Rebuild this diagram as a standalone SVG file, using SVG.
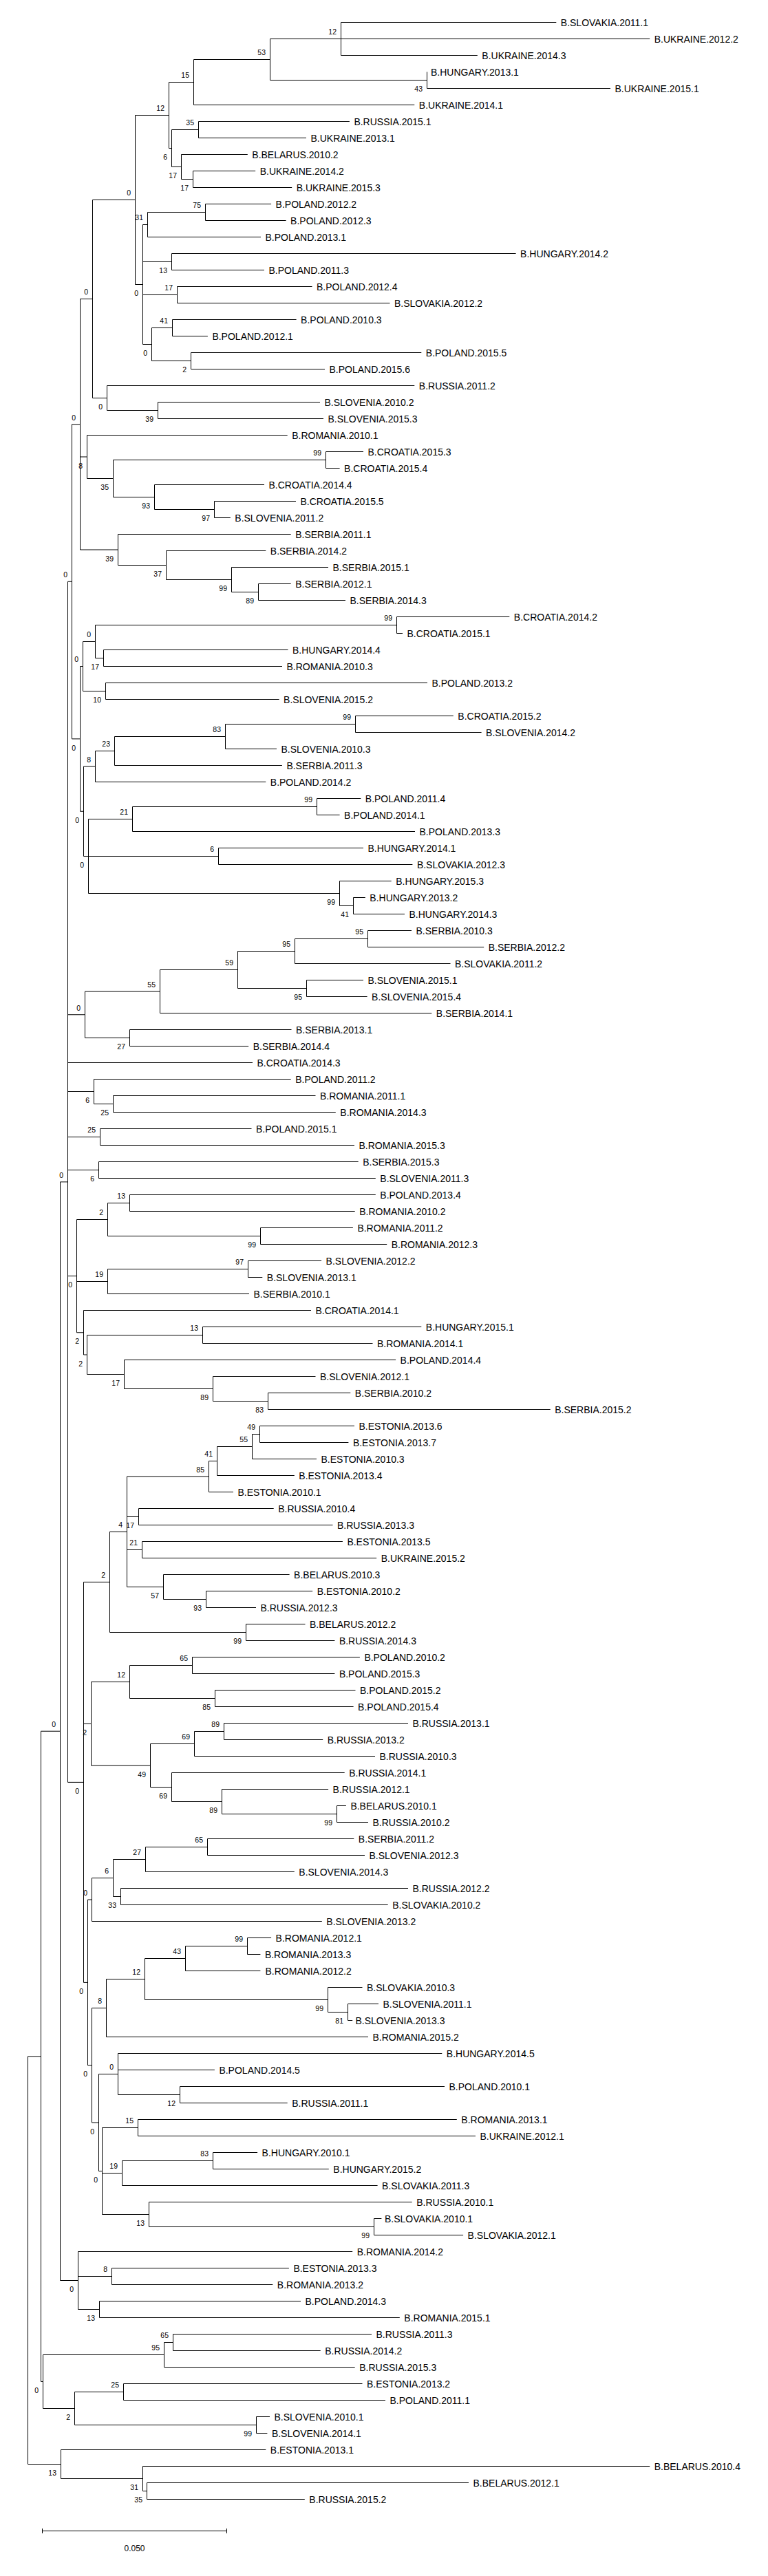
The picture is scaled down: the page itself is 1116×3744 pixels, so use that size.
<svg xmlns="http://www.w3.org/2000/svg" width="1116" height="3744" viewBox="0 0 1116 3744">
<style>
.c path{fill:none;stroke:#000;stroke-width:1}
text{font-family:"Liberation Sans",Arial,sans-serif;fill:#000}
.lf text{font-size:14px}
.bs text{font-size:10.5px;text-anchor:end}
</style>
<rect x="0" y="0" width="1116" height="3744" fill="#fff"/>
<g id="connectors" class="c">
<path d="M495.5 32.5V80.5M495.5 32.5H808.3M495.5 80.5H693.8"/>
<path d="M620.5 104.5V128.5M620.5 128.5H887"/>
<path d="M392.5 56.5V116.5M392.5 56.5H944.2M392.5 116.5H620.5"/>
<path d="M281.5 86.5V152.5M281.5 86.5H392.5M281.5 152.5H602.3"/>
<path d="M288.5 176.5V200.5M288.5 176.5H507.9M288.5 200.5H445"/>
<path d="M280.5 248.5V272.5M280.5 248.5H371.2M280.5 272.5H424.2"/>
<path d="M263.5 224.5V260.5M263.5 224.5H359.8M263.5 260.5H280.5"/>
<path d="M249.5 188.5V242.5M249.5 188.5H288.5M249.5 242.5H263.5"/>
<path d="M245.5 119.5V215.5M245.5 119.5H281.5M245.5 215.5H249.5"/>
<path d="M298.5 296.5V320.5M298.5 296.5H394.1M298.5 320.5H415.6"/>
<path d="M214.5 308.5V344.5M214.5 308.5H298.5M214.5 344.5H379"/>
<path d="M249.5 368.5V392.5M249.5 368.5H749.6M249.5 392.5H384"/>
<path d="M257.5 416.5V440.5M257.5 416.5H453.5M257.5 440.5H566.5"/>
<path d="M250.5 464.5V488.5M250.5 464.5H430.6M250.5 488.5H301.9"/>
<path d="M277.5 512.5V536.5M277.5 512.5H612.3M277.5 536.5H472"/>
<path d="M220.5 476.5V524.5M220.5 476.5H250.5M220.5 524.5H277.5"/>
<path d="M207.5 326.5V500.5M207.5 326.5H214.5M207.5 380.5H249.5M207.5 428.5H257.5M207.5 500.5H220.5"/>
<path d="M196.5 167.5V413.5M196.5 167.5H245.5M196.5 413.5H207.5"/>
<path d="M229.5 584.5V608.5M229.5 584.5H465M229.5 608.5H470"/>
<path d="M155.5 560.5V596.5M155.5 560.5H602.3M155.5 596.5H229.5"/>
<path d="M134.5 290.5V578.5M134.5 290.5H196.5M134.5 578.5H155.5"/>
<path d="M473.5 656.5V680.5M473.5 656.5H528M473.5 680.5H493.6"/>
<path d="M311.5 728.5V752.5M311.5 728.5H430M311.5 752.5H334.8"/>
<path d="M224.5 704.5V740.5M224.5 704.5H384M224.5 740.5H311.5"/>
<path d="M164.5 668.5V722.5M164.5 668.5H473.5M164.5 722.5H224.5"/>
<path d="M126.5 632.5V695.5M126.5 632.5H417.7M126.5 695.5H164.5"/>
<path d="M375.5 848.5V872.5M375.5 848.5H422.7M375.5 872.5H502"/>
<path d="M336.5 824.5V860.5M336.5 824.5H477M336.5 860.5H375.5"/>
<path d="M241.5 800.5V842.5M241.5 800.5H386.3M241.5 842.5H336.5"/>
<path d="M171.5 776.5V821.5M171.5 776.5H422.7M171.5 821.5H241.5"/>
<path d="M116.5 434.5V799M116.5 434.5H134.5M116.5 664H126.5M116.5 799H171.5"/>
<path d="M576.5 896.5V920.5M576.5 896.5H740.3M576.5 920.5H585"/>
<path d="M150.5 944.5V968.5M150.5 944.5H418.5M150.5 968.5H410"/>
<path d="M138.5 908.5V956.5M138.5 908.5H576.5M138.5 956.5H150.5"/>
<path d="M153.5 992.5V1016.5M153.5 992.5H621M153.5 1016.5H405.6"/>
<path d="M120.5 932.5V1004.5M120.5 932.5H138.5M120.5 1004.5H153.5"/>
<path d="M516.5 1040.5V1064.5M516.5 1040.5H658.8M516.5 1064.5H699.6"/>
<path d="M327.5 1052.5V1088.5M327.5 1052.5H516.5M327.5 1088.5H402"/>
<path d="M166.5 1070.5V1112.5M166.5 1070.5H327.5M166.5 1112.5H409.9"/>
<path d="M138.5 1091.5V1136.5M138.5 1091.5H166.5M138.5 1136.5H386.3"/>
<path d="M317.5 1232.5V1256.5M317.5 1232.5H528M317.5 1256.5H599.4"/>
<path d="M460.5 1160.5V1184.5M460.5 1160.5H524.3M460.5 1184.5H493.6"/>
<path d="M192.5 1172.5V1208.5M192.5 1172.5H460.5M192.5 1208.5H603"/>
<path d="M513.5 1304.5V1328.5M513.5 1304.5H530.8M513.5 1328.5H588"/>
<path d="M493.5 1280.5V1316.5M493.5 1280.5H568.7M493.5 1316.5H513.5"/>
<path d="M128.5 1190.5V1298.5M128.5 1190.5H192.5M128.5 1298.5H493.5"/>
<path d="M121.5 1114V1244.5M121.5 1114H138.5M121.5 1244.5H317.5"/>
<path d="M116.5 968.5V1179.25M116.5 968.5H120.5M116.5 1179.25H121.5"/>
<path d="M104.5 616.75V1073.9M104.5 616.75H116.5M104.5 1073.9H116.5"/>
<path d="M534.5 1352.5V1376.5M534.5 1352.5H598M534.5 1376.5H703.2"/>
<path d="M428.5 1364.5V1400.5M428.5 1364.5H534.5M428.5 1400.5H654.5"/>
<path d="M445.5 1424.5V1448.5M445.5 1424.5H528M445.5 1448.5H533.6"/>
<path d="M345.5 1382.5V1436.5M345.5 1382.5H428.5M345.5 1436.5H445.5"/>
<path d="M232.5 1409.5V1472.5M232.5 1409.5H345.5M232.5 1472.5H627.3"/>
<path d="M188.5 1496.5V1520.5M188.5 1496.5H423.5M188.5 1520.5H361.2"/>
<path d="M123.5 1441V1508.5M123.5 1441H232.5M123.5 1508.5H188.5"/>
<path d="M164.5 1592.5V1616.5M164.5 1592.5H458.5M164.5 1616.5H487.8"/>
<path d="M136.5 1568.5V1604.5M136.5 1568.5H422.7M136.5 1604.5H164.5"/>
<path d="M145.5 1640.5V1664.5M145.5 1640.5H365.5M145.5 1664.5H515"/>
<path d="M143.5 1688.5V1712.5M143.5 1688.5H520.7M143.5 1712.5H545.8"/>
<path d="M188.5 1736.5V1760.5M188.5 1736.5H545.8M188.5 1760.5H515.7"/>
<path d="M378.5 1784.5V1808.5M378.5 1784.5H512.9M378.5 1808.5H562.2"/>
<path d="M156.5 1748.5V1796.5M156.5 1748.5H188.5M156.5 1796.5H378.5"/>
<path d="M360.5 1832.5V1856.5M360.5 1832.5H467.1M360.5 1856.5H381.3"/>
<path d="M156.5 1844.5V1880.5M156.5 1844.5H360.5M156.5 1880.5H362"/>
<path d="M294.5 1928.5V1952.5M294.5 1928.5H612.3M294.5 1952.5H541.5"/>
<path d="M389.5 2024.5V2048.5M389.5 2024.5H509.3M389.5 2048.5H799.7"/>
<path d="M309.5 2000.5V2036.5M309.5 2000.5H458.5M309.5 2036.5H389.5"/>
<path d="M180.5 1976.5V2018.5M180.5 1976.5H575.1M180.5 2018.5H309.5"/>
<path d="M126.5 1940.5V1997.5M126.5 1940.5H294.5M126.5 1997.5H180.5"/>
<path d="M121.5 1904.5V1969M121.5 1904.5H452M121.5 1969H126.5"/>
<path d="M111.5 1772.5V1936.75M111.5 1772.5H156.5M111.5 1862.5H156.5M111.5 1936.75H121.5"/>
<path d="M377.5 2072.5V2096.5M377.5 2072.5H515M377.5 2096.5H506.4"/>
<path d="M366.5 2084.5V2120.5M366.5 2084.5H377.5M366.5 2120.5H460"/>
<path d="M315.5 2102.5V2144.5M315.5 2102.5H366.5M315.5 2144.5H427.8"/>
<path d="M303.5 2123.5V2168.5M303.5 2123.5H315.5M303.5 2168.5H339"/>
<path d="M201.5 2192.5V2216.5M201.5 2192.5H397.7M201.5 2216.5H483.5"/>
<path d="M206.5 2240.5V2264.5M206.5 2240.5H497.9M206.5 2264.5H547.2"/>
<path d="M299.5 2312.5V2336.5M299.5 2312.5H454.2M299.5 2336.5H372"/>
<path d="M237.5 2288.5V2324.5M237.5 2288.5H420.6M237.5 2324.5H299.5"/>
<path d="M184.5 2146V2306.5M184.5 2146H303.5M184.5 2204.5H201.5M184.5 2252.5H206.5M184.5 2306.5H237.5"/>
<path d="M357.5 2360.5V2384.5M357.5 2360.5H443.5M357.5 2384.5H486.4"/>
<path d="M159.5 2226.25V2372.5M159.5 2226.25H184.5M159.5 2372.5H357.5"/>
<path d="M279.5 2408.5V2432.5M279.5 2408.5H522.9M279.5 2432.5H486.4"/>
<path d="M312.5 2456.5V2480.5M312.5 2456.5H516.5M312.5 2480.5H513.6"/>
<path d="M188.5 2420.5V2468.5M188.5 2420.5H279.5M188.5 2468.5H312.5"/>
<path d="M325.5 2504.5V2528.5M325.5 2504.5H593M325.5 2528.5H469.2"/>
<path d="M282.5 2516.5V2552.5M282.5 2516.5H325.5M282.5 2552.5H545"/>
<path d="M489.5 2624.5V2648.5M489.5 2624.5H502.9M489.5 2648.5H535"/>
<path d="M322.5 2600.5V2636.5M322.5 2600.5H477.1M322.5 2636.5H489.5"/>
<path d="M249.5 2576.5V2618.5M249.5 2576.5H500.7M249.5 2618.5H322.5"/>
<path d="M218.5 2534.5V2597.5M218.5 2534.5H282.5M218.5 2597.5H249.5"/>
<path d="M132.5 2444.5V2566M132.5 2444.5H188.5M132.5 2566H218.5"/>
<path d="M301.5 2672.5V2696.5M301.5 2672.5H514.3M301.5 2696.5H530"/>
<path d="M211.5 2684.5V2720.5M211.5 2684.5H301.5M211.5 2720.5H427.8"/>
<path d="M175.5 2744.5V2768.5M175.5 2744.5H593M175.5 2768.5H563.7"/>
<path d="M164.5 2702.5V2756.5M164.5 2702.5H211.5M164.5 2756.5H175.5"/>
<path d="M133.5 2729.5V2792.5M133.5 2729.5H164.5M133.5 2792.5H467.8"/>
<path d="M359.5 2816.5V2840.5M359.5 2816.5H394.1M359.5 2840.5H378.4"/>
<path d="M269.5 2828.5V2864.5M269.5 2828.5H359.5M269.5 2864.5H378.4"/>
<path d="M505.5 2912.5V2936.5M505.5 2912.5H550M505.5 2936.5H512.2"/>
<path d="M476.5 2888.5V2924.5M476.5 2888.5H526.5M476.5 2924.5H505.5"/>
<path d="M210.5 2846.5V2906.5M210.5 2846.5H269.5M210.5 2906.5H476.5"/>
<path d="M154.5 2876.5V2960.5M154.5 2876.5H210.5M154.5 2960.5H535"/>
<path d="M261.5 3032.5V3056.5M261.5 3032.5H646M261.5 3056.5H417.7"/>
<path d="M171.5 2984.5V3044.5M171.5 2984.5H642.3M171.5 3008.5H311.9M171.5 3044.5H261.5"/>
<path d="M200.5 3080.5V3104.5M200.5 3080.5H663.8M200.5 3104.5H691"/>
<path d="M309.5 3128.5V3152.5M309.5 3128.5H374.1M309.5 3152.5H477.8"/>
<path d="M177.5 3140.5V3176.5M177.5 3140.5H309.5M177.5 3176.5H548.6"/>
<path d="M543.5 3224.5V3248.5M543.5 3224.5H554.4M543.5 3248.5H673.1"/>
<path d="M216.5 3200.5V3236.5M216.5 3200.5H598.7M216.5 3236.5H543.5"/>
<path d="M148.5 3092.5V3218.5M148.5 3092.5H200.5M148.5 3158.5H177.5M148.5 3218.5H216.5"/>
<path d="M143.5 3014.5V3155.5M143.5 3014.5H171.5M143.5 3155.5H148.5"/>
<path d="M133.5 2918.5V3085M133.5 2918.5H154.5M133.5 3085H143.5"/>
<path d="M127.5 2761V3001.75M127.5 2761H133.5M127.5 3001.75H133.5"/>
<path d="M121.5 2299.4V2881.4M121.5 2299.4H159.5M121.5 2505.25H132.5M121.5 2881.4H127.5"/>
<path d="M98.5 845.3V2590.4M98.5 845.3H104.5M98.5 1474.75H123.5M98.5 1544.5H367M98.5 1586.5H136.5M98.5 1652.5H145.5M98.5 1700.5H143.5M98.5 1854.6H111.5M98.5 2590.4H121.5"/>
<path d="M162.5 3296.5V3320.5M162.5 3296.5H419.9M162.5 3320.5H396.3"/>
<path d="M144.5 3344.5V3368.5M144.5 3344.5H437M144.5 3368.5H580.8"/>
<path d="M113.5 3272.5V3356.5M113.5 3272.5H512.2M113.5 3308.5H162.5M113.5 3356.5H144.5"/>
<path d="M87.5 1717.85V3314.5M87.5 1717.85H98.5M87.5 3314.5H113.5"/>
<path d="M251.5 3392.5V3416.5M251.5 3392.5H540M251.5 3416.5H465.7"/>
<path d="M238.5 3404.5V3440.5M238.5 3404.5H251.5M238.5 3440.5H515.7"/>
<path d="M179.5 3464.5V3488.5M179.5 3464.5H526.5M179.5 3488.5H560"/>
<path d="M372.5 3512.5V3536.5M372.5 3512.5H392M372.5 3536.5H388.4"/>
<path d="M108.5 3476.5V3524.5M108.5 3476.5H179.5M108.5 3524.5H372.5"/>
<path d="M62.5 3422.5V3500.5M62.5 3422.5H238.5M62.5 3500.5H108.5"/>
<path d="M59.5 2516.2V3461.5M59.5 2516.2H87.5M59.5 3461.5H62.5"/>
<path d="M213.5 3608.5V3632.5M213.5 3608.5H681M213.5 3632.5H442.8"/>
<path d="M207.5 3584.5V3620.5M207.5 3584.5H944.2M207.5 3620.5H213.5"/>
<path d="M88.5 3560.5V3602.5M88.5 3560.5H386.3M88.5 3602.5H207.5"/>
<path d="M40.5 2988.85V3581.5M40.5 2988.85H59.5M40.5 3581.5H88.5"/>
</g>
<g id="leaves" class="lf">
<g id="leaf-SLOVAKIA-2011-1"><text x="814.8" y="37.5">B.SLOVAKIA.2011.1</text></g>
<g id="leaf-UKRAINE-2012-2"><text x="950.7" y="61.5">B.UKRAINE.2012.2</text></g>
<g id="leaf-UKRAINE-2014-3"><text x="700.3" y="85.5">B.UKRAINE.2014.3</text></g>
<g id="leaf-HUNGARY-2013-1"><text x="626" y="109.5">B.HUNGARY.2013.1</text></g>
<g id="leaf-UKRAINE-2015-1"><text x="893.5" y="133.5">B.UKRAINE.2015.1</text></g>
<g id="leaf-UKRAINE-2014-1"><text x="608.8" y="157.5">B.UKRAINE.2014.1</text></g>
<g id="leaf-RUSSIA-2015-1"><text x="514.4" y="181.5">B.RUSSIA.2015.1</text></g>
<g id="leaf-UKRAINE-2013-1"><text x="451.5" y="205.5">B.UKRAINE.2013.1</text></g>
<g id="leaf-BELARUS-2010-2"><text x="366.3" y="229.5">B.BELARUS.2010.2</text></g>
<g id="leaf-UKRAINE-2014-2"><text x="377.7" y="253.5">B.UKRAINE.2014.2</text></g>
<g id="leaf-UKRAINE-2015-3"><text x="430.7" y="277.5">B.UKRAINE.2015.3</text></g>
<g id="leaf-POLAND-2012-2"><text x="400.6" y="301.5">B.POLAND.2012.2</text></g>
<g id="leaf-POLAND-2012-3"><text x="422.1" y="325.5">B.POLAND.2012.3</text></g>
<g id="leaf-POLAND-2013-1"><text x="385.5" y="349.5">B.POLAND.2013.1</text></g>
<g id="leaf-HUNGARY-2014-2"><text x="756.1" y="373.5">B.HUNGARY.2014.2</text></g>
<g id="leaf-POLAND-2011-3"><text x="390.5" y="397.5">B.POLAND.2011.3</text></g>
<g id="leaf-POLAND-2012-4"><text x="460" y="421.5">B.POLAND.2012.4</text></g>
<g id="leaf-SLOVAKIA-2012-2"><text x="573" y="445.5">B.SLOVAKIA.2012.2</text></g>
<g id="leaf-POLAND-2010-3"><text x="437.1" y="469.5">B.POLAND.2010.3</text></g>
<g id="leaf-POLAND-2012-1"><text x="308.4" y="493.5">B.POLAND.2012.1</text></g>
<g id="leaf-POLAND-2015-5"><text x="618.8" y="517.5">B.POLAND.2015.5</text></g>
<g id="leaf-POLAND-2015-6"><text x="478.5" y="541.5">B.POLAND.2015.6</text></g>
<g id="leaf-RUSSIA-2011-2"><text x="608.8" y="565.5">B.RUSSIA.2011.2</text></g>
<g id="leaf-SLOVENIA-2010-2"><text x="471.5" y="589.5">B.SLOVENIA.2010.2</text></g>
<g id="leaf-SLOVENIA-2015-3"><text x="476.5" y="613.5">B.SLOVENIA.2015.3</text></g>
<g id="leaf-ROMANIA-2010-1"><text x="424.2" y="637.5">B.ROMANIA.2010.1</text></g>
<g id="leaf-CROATIA-2015-3"><text x="534.5" y="661.5">B.CROATIA.2015.3</text></g>
<g id="leaf-CROATIA-2015-4"><text x="500.1" y="685.5">B.CROATIA.2015.4</text></g>
<g id="leaf-CROATIA-2014-4"><text x="390.5" y="709.5">B.CROATIA.2014.4</text></g>
<g id="leaf-CROATIA-2015-5"><text x="436.5" y="733.5">B.CROATIA.2015.5</text></g>
<g id="leaf-SLOVENIA-2011-2"><text x="341.3" y="757.5">B.SLOVENIA.2011.2</text></g>
<g id="leaf-SERBIA-2011-1"><text x="429.2" y="781.5">B.SERBIA.2011.1</text></g>
<g id="leaf-SERBIA-2014-2"><text x="392.8" y="805.5">B.SERBIA.2014.2</text></g>
<g id="leaf-SERBIA-2015-1"><text x="483.5" y="829.5">B.SERBIA.2015.1</text></g>
<g id="leaf-SERBIA-2012-1"><text x="429.2" y="853.5">B.SERBIA.2012.1</text></g>
<g id="leaf-SERBIA-2014-3"><text x="508.5" y="877.5">B.SERBIA.2014.3</text></g>
<g id="leaf-CROATIA-2014-2"><text x="746.8" y="901.5">B.CROATIA.2014.2</text></g>
<g id="leaf-CROATIA-2015-1"><text x="591.5" y="925.5">B.CROATIA.2015.1</text></g>
<g id="leaf-HUNGARY-2014-4"><text x="425" y="949.5">B.HUNGARY.2014.4</text></g>
<g id="leaf-ROMANIA-2010-3"><text x="416.5" y="973.5">B.ROMANIA.2010.3</text></g>
<g id="leaf-POLAND-2013-2"><text x="627.5" y="997.5">B.POLAND.2013.2</text></g>
<g id="leaf-SLOVENIA-2015-2"><text x="412.1" y="1021.5">B.SLOVENIA.2015.2</text></g>
<g id="leaf-CROATIA-2015-2"><text x="665.3" y="1045.5">B.CROATIA.2015.2</text></g>
<g id="leaf-SLOVENIA-2014-2"><text x="706.1" y="1069.5">B.SLOVENIA.2014.2</text></g>
<g id="leaf-SLOVENIA-2010-3"><text x="408.5" y="1093.5">B.SLOVENIA.2010.3</text></g>
<g id="leaf-SERBIA-2011-3"><text x="416.4" y="1117.5">B.SERBIA.2011.3</text></g>
<g id="leaf-POLAND-2014-2"><text x="392.8" y="1141.5">B.POLAND.2014.2</text></g>
<g id="leaf-POLAND-2011-4"><text x="530.8" y="1165.5">B.POLAND.2011.4</text></g>
<g id="leaf-POLAND-2014-1"><text x="500.1" y="1189.5">B.POLAND.2014.1</text></g>
<g id="leaf-POLAND-2013-3"><text x="609.5" y="1213.5">B.POLAND.2013.3</text></g>
<g id="leaf-HUNGARY-2014-1"><text x="534.5" y="1237.5">B.HUNGARY.2014.1</text></g>
<g id="leaf-SLOVAKIA-2012-3"><text x="605.9" y="1261.5">B.SLOVAKIA.2012.3</text></g>
<g id="leaf-HUNGARY-2015-3"><text x="575.2" y="1285.5">B.HUNGARY.2015.3</text></g>
<g id="leaf-HUNGARY-2013-2"><text x="537.3" y="1309.5">B.HUNGARY.2013.2</text></g>
<g id="leaf-HUNGARY-2014-3"><text x="594.5" y="1333.5">B.HUNGARY.2014.3</text></g>
<g id="leaf-SERBIA-2010-3"><text x="604.5" y="1357.5">B.SERBIA.2010.3</text></g>
<g id="leaf-SERBIA-2012-2"><text x="709.7" y="1381.5">B.SERBIA.2012.2</text></g>
<g id="leaf-SLOVAKIA-2011-2"><text x="661" y="1405.5">B.SLOVAKIA.2011.2</text></g>
<g id="leaf-SLOVENIA-2015-1"><text x="534.5" y="1429.5">B.SLOVENIA.2015.1</text></g>
<g id="leaf-SLOVENIA-2015-4"><text x="540.1" y="1453.5">B.SLOVENIA.2015.4</text></g>
<g id="leaf-SERBIA-2014-1"><text x="633.8" y="1477.5">B.SERBIA.2014.1</text></g>
<g id="leaf-SERBIA-2013-1"><text x="430" y="1501.5">B.SERBIA.2013.1</text></g>
<g id="leaf-SERBIA-2014-4"><text x="367.7" y="1525.5">B.SERBIA.2014.4</text></g>
<g id="leaf-CROATIA-2014-3"><text x="373.5" y="1549.5">B.CROATIA.2014.3</text></g>
<g id="leaf-POLAND-2011-2"><text x="429.2" y="1573.5">B.POLAND.2011.2</text></g>
<g id="leaf-ROMANIA-2011-1"><text x="465" y="1597.5">B.ROMANIA.2011.1</text></g>
<g id="leaf-ROMANIA-2014-3"><text x="494.3" y="1621.5">B.ROMANIA.2014.3</text></g>
<g id="leaf-POLAND-2015-1"><text x="372" y="1645.5">B.POLAND.2015.1</text></g>
<g id="leaf-ROMANIA-2015-3"><text x="521.5" y="1669.5">B.ROMANIA.2015.3</text></g>
<g id="leaf-SERBIA-2015-3"><text x="527.2" y="1693.5">B.SERBIA.2015.3</text></g>
<g id="leaf-SLOVENIA-2011-3"><text x="552.3" y="1717.5">B.SLOVENIA.2011.3</text></g>
<g id="leaf-POLAND-2013-4"><text x="552.3" y="1741.5">B.POLAND.2013.4</text></g>
<g id="leaf-ROMANIA-2010-2"><text x="522.2" y="1765.5">B.ROMANIA.2010.2</text></g>
<g id="leaf-ROMANIA-2011-2"><text x="519.4" y="1789.5">B.ROMANIA.2011.2</text></g>
<g id="leaf-ROMANIA-2012-3"><text x="568.7" y="1813.5">B.ROMANIA.2012.3</text></g>
<g id="leaf-SLOVENIA-2012-2"><text x="473.6" y="1837.5">B.SLOVENIA.2012.2</text></g>
<g id="leaf-SLOVENIA-2013-1"><text x="387.8" y="1861.5">B.SLOVENIA.2013.1</text></g>
<g id="leaf-SERBIA-2010-1"><text x="368.5" y="1885.5">B.SERBIA.2010.1</text></g>
<g id="leaf-CROATIA-2014-1"><text x="458.5" y="1909.5">B.CROATIA.2014.1</text></g>
<g id="leaf-HUNGARY-2015-1"><text x="618.8" y="1933.5">B.HUNGARY.2015.1</text></g>
<g id="leaf-ROMANIA-2014-1"><text x="548" y="1957.5">B.ROMANIA.2014.1</text></g>
<g id="leaf-POLAND-2014-4"><text x="581.6" y="1981.5">B.POLAND.2014.4</text></g>
<g id="leaf-SLOVENIA-2012-1"><text x="465" y="2005.5">B.SLOVENIA.2012.1</text></g>
<g id="leaf-SERBIA-2010-2"><text x="515.8" y="2029.5">B.SERBIA.2010.2</text></g>
<g id="leaf-SERBIA-2015-2"><text x="806.2" y="2053.5">B.SERBIA.2015.2</text></g>
<g id="leaf-ESTONIA-2013-6"><text x="521.5" y="2077.5">B.ESTONIA.2013.6</text></g>
<g id="leaf-ESTONIA-2013-7"><text x="512.9" y="2101.5">B.ESTONIA.2013.7</text></g>
<g id="leaf-ESTONIA-2010-3"><text x="466.5" y="2125.5">B.ESTONIA.2010.3</text></g>
<g id="leaf-ESTONIA-2013-4"><text x="434.3" y="2149.5">B.ESTONIA.2013.4</text></g>
<g id="leaf-ESTONIA-2010-1"><text x="345.5" y="2173.5">B.ESTONIA.2010.1</text></g>
<g id="leaf-RUSSIA-2010-4"><text x="404.2" y="2197.5">B.RUSSIA.2010.4</text></g>
<g id="leaf-RUSSIA-2013-3"><text x="490" y="2221.5">B.RUSSIA.2013.3</text></g>
<g id="leaf-ESTONIA-2013-5"><text x="504.4" y="2245.5">B.ESTONIA.2013.5</text></g>
<g id="leaf-UKRAINE-2015-2"><text x="553.7" y="2269.5">B.UKRAINE.2015.2</text></g>
<g id="leaf-BELARUS-2010-3"><text x="427.1" y="2293.5">B.BELARUS.2010.3</text></g>
<g id="leaf-ESTONIA-2010-2"><text x="460.7" y="2317.5">B.ESTONIA.2010.2</text></g>
<g id="leaf-RUSSIA-2012-3"><text x="378.5" y="2341.5">B.RUSSIA.2012.3</text></g>
<g id="leaf-BELARUS-2012-2"><text x="450" y="2365.5">B.BELARUS.2012.2</text></g>
<g id="leaf-RUSSIA-2014-3"><text x="492.9" y="2389.5">B.RUSSIA.2014.3</text></g>
<g id="leaf-POLAND-2010-2"><text x="529.4" y="2413.5">B.POLAND.2010.2</text></g>
<g id="leaf-POLAND-2015-3"><text x="492.9" y="2437.5">B.POLAND.2015.3</text></g>
<g id="leaf-POLAND-2015-2"><text x="523" y="2461.5">B.POLAND.2015.2</text></g>
<g id="leaf-POLAND-2015-4"><text x="520.1" y="2485.5">B.POLAND.2015.4</text></g>
<g id="leaf-RUSSIA-2013-1"><text x="599.5" y="2509.5">B.RUSSIA.2013.1</text></g>
<g id="leaf-RUSSIA-2013-2"><text x="475.7" y="2533.5">B.RUSSIA.2013.2</text></g>
<g id="leaf-RUSSIA-2010-3"><text x="551.5" y="2557.5">B.RUSSIA.2010.3</text></g>
<g id="leaf-RUSSIA-2014-1"><text x="507.2" y="2581.5">B.RUSSIA.2014.1</text></g>
<g id="leaf-RUSSIA-2012-1"><text x="483.6" y="2605.5">B.RUSSIA.2012.1</text></g>
<g id="leaf-BELARUS-2010-1"><text x="509.4" y="2629.5">B.BELARUS.2010.1</text></g>
<g id="leaf-RUSSIA-2010-2"><text x="541.5" y="2653.5">B.RUSSIA.2010.2</text></g>
<g id="leaf-SERBIA-2011-2"><text x="520.8" y="2677.5">B.SERBIA.2011.2</text></g>
<g id="leaf-SLOVENIA-2012-3"><text x="536.5" y="2701.5">B.SLOVENIA.2012.3</text></g>
<g id="leaf-SLOVENIA-2014-3"><text x="434.3" y="2725.5">B.SLOVENIA.2014.3</text></g>
<g id="leaf-RUSSIA-2012-2"><text x="599.5" y="2749.5">B.RUSSIA.2012.2</text></g>
<g id="leaf-SLOVAKIA-2010-2"><text x="570.2" y="2773.5">B.SLOVAKIA.2010.2</text></g>
<g id="leaf-SLOVENIA-2013-2"><text x="474.3" y="2797.5">B.SLOVENIA.2013.2</text></g>
<g id="leaf-ROMANIA-2012-1"><text x="400.6" y="2821.5">B.ROMANIA.2012.1</text></g>
<g id="leaf-ROMANIA-2013-3"><text x="384.9" y="2845.5">B.ROMANIA.2013.3</text></g>
<g id="leaf-ROMANIA-2012-2"><text x="385.5" y="2869.5">B.ROMANIA.2012.2</text></g>
<g id="leaf-SLOVAKIA-2010-3"><text x="533" y="2893.5">B.SLOVAKIA.2010.3</text></g>
<g id="leaf-SLOVENIA-2011-1"><text x="556.5" y="2917.5">B.SLOVENIA.2011.1</text></g>
<g id="leaf-SLOVENIA-2013-3"><text x="516.5" y="2941.5">B.SLOVENIA.2013.3</text></g>
<g id="leaf-ROMANIA-2015-2"><text x="541.5" y="2965.5">B.ROMANIA.2015.2</text></g>
<g id="leaf-HUNGARY-2014-5"><text x="648.8" y="2989.5">B.HUNGARY.2014.5</text></g>
<g id="leaf-POLAND-2014-5"><text x="318.4" y="3013.5">B.POLAND.2014.5</text></g>
<g id="leaf-POLAND-2010-1"><text x="652.5" y="3037.5">B.POLAND.2010.1</text></g>
<g id="leaf-RUSSIA-2011-1"><text x="424.2" y="3061.5">B.RUSSIA.2011.1</text></g>
<g id="leaf-ROMANIA-2013-1"><text x="670.3" y="3085.5">B.ROMANIA.2013.1</text></g>
<g id="leaf-UKRAINE-2012-1"><text x="697.5" y="3109.5">B.UKRAINE.2012.1</text></g>
<g id="leaf-HUNGARY-2010-1"><text x="380.6" y="3133.5">B.HUNGARY.2010.1</text></g>
<g id="leaf-HUNGARY-2015-2"><text x="484.3" y="3157.5">B.HUNGARY.2015.2</text></g>
<g id="leaf-SLOVAKIA-2011-3"><text x="555.1" y="3181.5">B.SLOVAKIA.2011.3</text></g>
<g id="leaf-RUSSIA-2010-1"><text x="605.2" y="3205.5">B.RUSSIA.2010.1</text></g>
<g id="leaf-SLOVAKIA-2010-1"><text x="559" y="3229.5">B.SLOVAKIA.2010.1</text></g>
<g id="leaf-SLOVAKIA-2012-1"><text x="679.6" y="3253.5">B.SLOVAKIA.2012.1</text></g>
<g id="leaf-ROMANIA-2014-2"><text x="518.7" y="3277.5">B.ROMANIA.2014.2</text></g>
<g id="leaf-ESTONIA-2013-3"><text x="426.4" y="3301.5">B.ESTONIA.2013.3</text></g>
<g id="leaf-ROMANIA-2013-2"><text x="402.8" y="3325.5">B.ROMANIA.2013.2</text></g>
<g id="leaf-POLAND-2014-3"><text x="443.5" y="3349.5">B.POLAND.2014.3</text></g>
<g id="leaf-ROMANIA-2015-1"><text x="587.3" y="3373.5">B.ROMANIA.2015.1</text></g>
<g id="leaf-RUSSIA-2011-3"><text x="546.5" y="3397.5">B.RUSSIA.2011.3</text></g>
<g id="leaf-RUSSIA-2014-2"><text x="472.2" y="3421.5">B.RUSSIA.2014.2</text></g>
<g id="leaf-RUSSIA-2015-3"><text x="522.2" y="3445.5">B.RUSSIA.2015.3</text></g>
<g id="leaf-ESTONIA-2013-2"><text x="533" y="3469.5">B.ESTONIA.2013.2</text></g>
<g id="leaf-POLAND-2011-1"><text x="566.5" y="3493.5">B.POLAND.2011.1</text></g>
<g id="leaf-SLOVENIA-2010-1"><text x="398.5" y="3517.5">B.SLOVENIA.2010.1</text></g>
<g id="leaf-SLOVENIA-2014-1"><text x="394.9" y="3541.5">B.SLOVENIA.2014.1</text></g>
<g id="leaf-ESTONIA-2013-1"><text x="392.8" y="3565.5">B.ESTONIA.2013.1</text></g>
<g id="leaf-BELARUS-2010-4"><text x="950.7" y="3589.5">B.BELARUS.2010.4</text></g>
<g id="leaf-BELARUS-2012-1"><text x="687.5" y="3613.5">B.BELARUS.2012.1</text></g>
<g id="leaf-RUSSIA-2015-2"><text x="449.3" y="3637.5">B.RUSSIA.2015.2</text></g>
</g>
<g id="support" class="bs">
<g id="n1"><text x="489" y="50.2">12</text></g>
<g id="n2"><text x="614" y="133.1">43</text></g>
<g id="n3"><text x="386" y="80.2">53</text></g>
<g id="n4"><text x="275" y="113.2">15</text></g>
<g id="n5"><text x="282" y="182.2">35</text></g>
<g id="n6"><text x="274" y="277.1">17</text></g>
<g id="n7"><text x="257" y="259.1">17</text></g>
<g id="n8"><text x="243" y="232.1">6</text></g>
<g id="n9"><text x="239" y="161.2">12</text></g>
<g id="n10"><text x="292" y="302.2">75</text></g>
<g id="n11"><text x="208" y="320.2">31</text></g>
<g id="n12"><text x="243" y="397.1">13</text></g>
<g id="n13"><text x="251" y="422.2">17</text></g>
<g id="n14"><text x="244" y="470.2">41</text></g>
<g id="n15"><text x="271" y="541.1">2</text></g>
<g id="n16"><text x="214" y="517.1">0</text></g>
<g id="n17"><text x="201" y="430.1">0</text></g>
<g id="n18"><text x="190" y="284.2">0</text></g>
<g id="n19"><text x="223" y="613.1">39</text></g>
<g id="n20"><text x="149" y="595.1">0</text></g>
<g id="n21"><text x="128" y="428.2">0</text></g>
<g id="n22"><text x="110" y="610.5">0</text></g>
<g id="n23"><text x="467" y="662.2">99</text></g>
<g id="n24"><text x="305" y="757.1">97</text></g>
<g id="n25"><text x="218" y="739.1">93</text></g>
<g id="n26"><text x="158" y="712.1">35</text></g>
<g id="n27"><text x="120" y="680.6">8</text></g>
<g id="n28"><text x="369" y="877.1">89</text></g>
<g id="n29"><text x="330" y="859.1">99</text></g>
<g id="n30"><text x="235" y="838.1">37</text></g>
<g id="n31"><text x="165" y="815.6">39</text></g>
<g id="n32"><text x="570" y="902.2">99</text></g>
<g id="n33"><text x="144" y="973.1">17</text></g>
<g id="n34"><text x="132" y="926.2">0</text></g>
<g id="n35"><text x="147" y="1021.1">10</text></g>
<g id="n36"><text x="114" y="962.2">0</text></g>
<g id="n37"><text x="510" y="1046.2">99</text></g>
<g id="n38"><text x="321" y="1064.2">83</text></g>
<g id="n39"><text x="160" y="1085.2">23</text></g>
<g id="n40"><text x="132" y="1107.7">8</text></g>
<g id="n41"><text x="311" y="1238.2">6</text></g>
<g id="n42"><text x="115" y="1195.9">0</text></g>
<g id="n43"><text x="454" y="1166.2">99</text></g>
<g id="n44"><text x="186" y="1184.2">21</text></g>
<g id="n45"><text x="507" y="1333.1">41</text></g>
<g id="n46"><text x="487" y="1315.1">99</text></g>
<g id="n47"><text x="122" y="1261.1">0</text></g>
<g id="n48"><text x="110" y="1090.5">0</text></g>
<g id="n49"><text x="98" y="839">0</text></g>
<g id="n50"><text x="528" y="1358.2">95</text></g>
<g id="n51"><text x="422" y="1376.2">95</text></g>
<g id="n52"><text x="439" y="1453.1">95</text></g>
<g id="n53"><text x="339" y="1403.2">59</text></g>
<g id="n54"><text x="226" y="1434.7">55</text></g>
<g id="n55"><text x="182" y="1525.1">27</text></g>
<g id="n56"><text x="117" y="1468.5">0</text></g>
<g id="n57"><text x="158" y="1621.1">25</text></g>
<g id="n58"><text x="130" y="1603.1">6</text></g>
<g id="n59"><text x="139" y="1646.2">25</text></g>
<g id="n60"><text x="137" y="1717.1">6</text></g>
<g id="n61"><text x="182" y="1742.2">13</text></g>
<g id="n62"><text x="372" y="1813.1">99</text></g>
<g id="n63"><text x="150" y="1766.2">2</text></g>
<g id="n64"><text x="354" y="1838.2">97</text></g>
<g id="n65"><text x="150" y="1856.2">19</text></g>
<g id="n66"><text x="288" y="1934.2">13</text></g>
<g id="n67"><text x="383" y="2053.1">83</text></g>
<g id="n68"><text x="303" y="2035.1">89</text></g>
<g id="n69"><text x="174" y="2014.1">17</text></g>
<g id="n70"><text x="120" y="1985.6">2</text></g>
<g id="n71"><text x="115" y="1953.4">2</text></g>
<g id="n72"><text x="105" y="1871.2">0</text></g>
<g id="n73"><text x="371" y="2078.2">49</text></g>
<g id="n74"><text x="360" y="2096.2">55</text></g>
<g id="n75"><text x="309" y="2117.2">41</text></g>
<g id="n76"><text x="297" y="2139.7">85</text></g>
<g id="n77"><text x="195" y="2221.1">17</text></g>
<g id="n78"><text x="200" y="2246.2">21</text></g>
<g id="n79"><text x="293" y="2341.1">93</text></g>
<g id="n80"><text x="231" y="2323.1">57</text></g>
<g id="n81"><text x="178" y="2220">4</text></g>
<g id="n82"><text x="351" y="2389.1">99</text></g>
<g id="n83"><text x="153" y="2293.1">2</text></g>
<g id="n84"><text x="273" y="2414.2">65</text></g>
<g id="n85"><text x="306" y="2485.1">85</text></g>
<g id="n86"><text x="182" y="2438.2">12</text></g>
<g id="n87"><text x="319" y="2510.2">89</text></g>
<g id="n88"><text x="276" y="2528.2">69</text></g>
<g id="n89"><text x="483" y="2653.1">99</text></g>
<g id="n90"><text x="316" y="2635.1">89</text></g>
<g id="n91"><text x="243" y="2614.1">69</text></g>
<g id="n92"><text x="212" y="2582.6">49</text></g>
<g id="n93"><text x="126" y="2521.9">2</text></g>
<g id="n94"><text x="295" y="2678.2">65</text></g>
<g id="n95"><text x="205" y="2696.2">27</text></g>
<g id="n96"><text x="169" y="2773.1">33</text></g>
<g id="n97"><text x="158" y="2723.2">6</text></g>
<g id="n98"><text x="127" y="2754.7">0</text></g>
<g id="n99"><text x="353" y="2822.2">99</text></g>
<g id="n100"><text x="263" y="2840.2">43</text></g>
<g id="n101"><text x="499" y="2941.1">81</text></g>
<g id="n102"><text x="470" y="2923.1">99</text></g>
<g id="n103"><text x="204" y="2870.2">12</text></g>
<g id="n104"><text x="148" y="2912.2">8</text></g>
<g id="n105"><text x="255" y="3061.1">12</text></g>
<g id="n106"><text x="165" y="3008.2">0</text></g>
<g id="n107"><text x="194" y="3086.2">15</text></g>
<g id="n108"><text x="303" y="3134.2">83</text></g>
<g id="n109"><text x="171" y="3152.2">19</text></g>
<g id="n110"><text x="537" y="3253.1">99</text></g>
<g id="n111"><text x="210" y="3235.1">13</text></g>
<g id="n112"><text x="142" y="3172.1">0</text></g>
<g id="n113"><text x="137" y="3101.6">0</text></g>
<g id="n114"><text x="127" y="3018.4">0</text></g>
<g id="n115"><text x="121" y="2898">0</text></g>
<g id="n116"><text x="115" y="2607">0</text></g>
<g id="n117"><text x="92" y="1711.6">0</text></g>
<g id="n118"><text x="156" y="3302.2">8</text></g>
<g id="n119"><text x="138" y="3373.1">13</text></g>
<g id="n120"><text x="107" y="3331.1">0</text></g>
<g id="n121"><text x="81" y="2509.9">0</text></g>
<g id="n122"><text x="245" y="3398.2">65</text></g>
<g id="n123"><text x="232" y="3416.2">95</text></g>
<g id="n124"><text x="173" y="3470.2">25</text></g>
<g id="n125"><text x="366" y="3541.1">99</text></g>
<g id="n126"><text x="102" y="3517.1">2</text></g>
<g id="n127"><text x="56" y="3478.1">0</text></g>
<g id="n128"><text x="207" y="3637.1">35</text></g>
<g id="n129"><text x="201" y="3619.1">31</text></g>
<g id="n130"><text x="82" y="3598.1">13</text></g>
</g>
<g id="scale-bar">
<path d="M61 3678.5H330M61.5 3675V3682M329.5 3675V3682" fill="none" stroke="#000" stroke-width="1"/>
<text x="195.5" y="3708" font-size="12" text-anchor="middle">0.050</text>
</g>
</svg>
